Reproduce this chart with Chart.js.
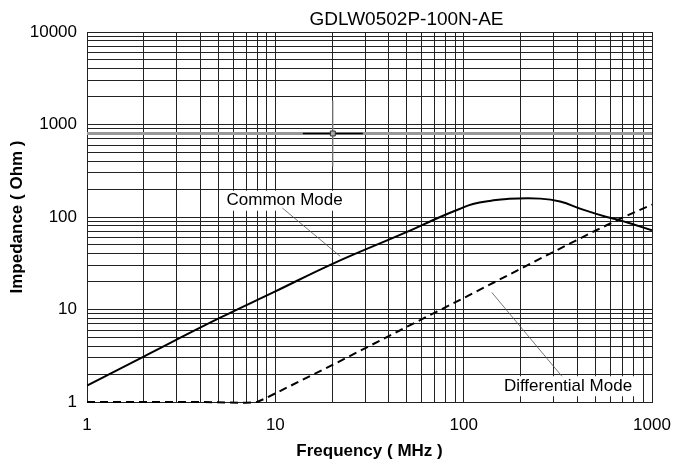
<!DOCTYPE html>
<html>
<head>
<title>GDLW0502P-100N-AE</title>
<script src="https://cdn.jsdelivr.net/npm/chart.js@4.4.0/dist/chart.umd.min.js"></script>
<style>
body { margin: 0; background: #fff; }
#wrap { width: 673px; height: 468px; position: relative; }
</style>
</head>
<body>
<div id="wrap"><canvas id="myChart"></canvas></div>
<script>
// impedance curves
var cmFreq = [1, 2, 5, 10, 20, 50, 75, 95, 112, 140, 170, 255, 325, 430, 575, 680, 800, 1000];
var cmOhm  = [1.5, 3.1, 8.0, 15.7, 31, 69, 100, 122, 138, 150, 157, 158, 147, 120, 100, 92, 83, 72];
var dmFreq = [1, 4, 7, 8, 9, 10, 20, 50, 100, 200, 300, 500, 700, 1000];
var dmOhm  = [1, 1, 0.98, 1.0, 1.11, 1.24, 2.5, 6.5, 13.3, 27.5, 42, 71, 99, 136];

var xTicks = [1, 10, 100, 1000];
var yTicks = [1, 10, 100, 1000, 10000];

// cursor marker + the grey reference line it sits on
var cursorFreq = [20.2];
var cursorOhm = [800];
var refLineFreq = [1, 1000];
var refLineOhm = [800, 800];

// callouts
var labelText = ["Common Mode", "Differential Mode"];
var labelFreq = [11.2, 358];
var labelOhm = [150, 1.48];
var leaderFreq = [[10.9, 22.1], [141, 332]];
var leaderOhm = [[125, 37.6], [15.3, 1.9]];

var FONT = "'Liberation Sans', Arial, sans-serif";

function pts(xs, ys) {
    var out = [];
    for (var i = 0; i < xs.length; i++) out.push({x: xs[i], y: ys[i]});
    return out;
}

// 1,2,...9,10,20,... for the log grid
function gridTicks(min, max) {
    var t = [];
    for (var d = min; d < max; d *= 10) {
        for (var k = 1; k < 10; k++) t.push({value: d * k});
    }
    t.push({value: max});
    return t;
}

var calloutPlugin = {
    id: 'callouts',
    beforeDatasetsDraw: function (chart) {
        var ctx = chart.ctx, xs = chart.scales.x, ys = chart.scales.y;
        ctx.save();
        ctx.font = '17px ' + FONT;
        ctx.textAlign = 'center';
        ctx.textBaseline = 'middle';
        for (var i = 0; i < labelText.length; i++) {
            var px = xs.getPixelForValue(labelFreq[i]);
            var py = ys.getPixelForValue(labelOhm[i]);
            var w = ctx.measureText(labelText[i]).width;
            ctx.fillStyle = '#fff';
            ctx.fillRect(px - w / 2 - 5, py - 10, w + 10, 20);
            ctx.fillStyle = '#000';
            ctx.fillText(labelText[i], px, py);
        }
        ctx.restore();
    }
};

var titlePlugin = {
    id: 'plotTitle',
    afterDraw: function (chart) {
        var ctx = chart.ctx, a = chart.chartArea;
        ctx.save();
        ctx.font = '19px ' + FONT;
        ctx.fillStyle = '#000';
        ctx.textAlign = 'center';
        ctx.textBaseline = 'middle';
        ctx.fillText('GDLW0502P-100N-AE', (a.left + a.right) / 2 + 37, a.top - 12);
        ctx.restore();
    }
};

var datasets = [
    {
        label: 'Common Mode',
        data: pts(cmFreq, cmOhm),
        borderColor: '#000',
        borderWidth: 2,
        pointRadius: 0,
        tension: 0.4
    },
    {
        label: 'Differential Mode',
        data: pts(dmFreq, dmOhm),
        borderColor: '#000',
        borderWidth: 2,
        borderDash: [8, 5],
        pointRadius: 0,
        tension: 0,
        clip: 4
    }
];
for (var i = 0; i < leaderFreq.length; i++) {
    datasets.push({
        data: pts(leaderFreq[i], leaderOhm[i]),
        borderColor: '#555',
        borderWidth: 0.8,
        pointRadius: 0
    });
}
datasets.push({
    data: pts(cursorFreq, cursorOhm),
    showLine: false,
    pointStyle: 'rect',
    pointRadius: 3.5,
    borderColor: '#333',
    backgroundColor: '#aaa',
    borderWidth: 1
});
datasets.push({
    data: pts(cursorFreq, cursorOhm),
    showLine: false,
    pointStyle: 'line',
    pointRadius: 30,
    borderColor: '#000',
    borderWidth: 1.5
});
datasets.push({
    data: pts(cursorFreq, cursorOhm),
    showLine: false,
    pointStyle: 'line',
    rotation: 90,
    pointRadius: 33,
    borderColor: '#888',
    borderWidth: 1.2
});
datasets.push({
    data: pts(refLineFreq, refLineOhm),
    borderColor: '#999',
    borderWidth: 3,
    pointRadius: 0
});

new Chart("myChart", {
    type: "line",
    data: {datasets: datasets},
    plugins: [calloutPlugin, titlePlugin],
    options: {
        responsive: true,
        maintainAspectRatio: false,
        animation: false,
        events: [],
        // big cursor point radius would otherwise pad the plot area
        layout: {autoPadding: false, padding: {top: 32, right: 21, left: 0, bottom: 0}},
        plugins: {
            legend: {display: false},
            tooltip: {enabled: false},
            title: {display: false}
        },
        scales: {
            x: {
                type: 'logarithmic',
                min: 1,
                max: 1000,
                afterBuildTicks: function (s) { s.ticks = gridTicks(1, 1000); },
                afterFit: function (s) { s.height = 66; s.paddingLeft = 0; s.paddingRight = 0; },
                grid: {color: '#222', lineWidth: 1, drawTicks: false},
                border: {display: true, color: '#222'},
                ticks: {
                    autoSkip: false,
                    maxRotation: 0,
                    padding: 13,
                    color: '#000',
                    font: {family: FONT, size: 17},
                    callback: function (v) { return xTicks.indexOf(v) >= 0 ? String(v) : ''; }
                },
                title: {
                    display: true,
                    text: 'Frequency ( MHz )',
                    color: '#000',
                    font: {family: FONT, size: 17, weight: 'bold'},
                    padding: {top: 0, bottom: 6}
                }
            },
            y: {
                type: 'logarithmic',
                min: 1,
                max: 10000,
                afterBuildTicks: function (s) { s.ticks = gridTicks(1, 10000); },
                afterFit: function (s) { s.width = 87; s.paddingTop = 0; s.paddingBottom = 0; },
                grid: {color: '#222', lineWidth: 1, drawTicks: false},
                border: {display: true, color: '#222'},
                ticks: {
                    autoSkip: false,
                    padding: 10,
                    color: '#000',
                    font: {family: FONT, size: 17},
                    callback: function (v) { return yTicks.indexOf(v) >= 0 ? String(v) : ''; }
                },
                title: {
                    display: true,
                    text: 'Impedance ( Ohm )',
                    color: '#000',
                    font: {family: FONT, size: 17, weight: 'bold'},
                    padding: {top: 7, bottom: 0}
                }
            }
        }
    }
});
</script>
</body>
</html>
